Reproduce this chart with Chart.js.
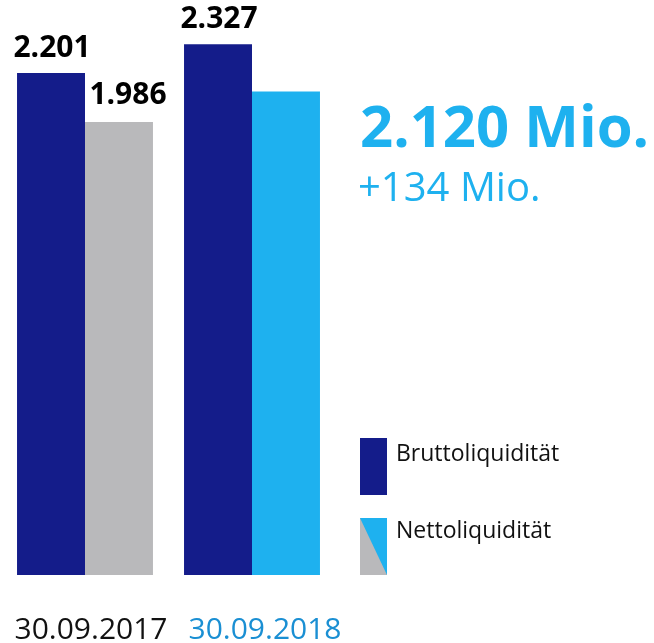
<!DOCTYPE html>
<html>
<head>
<meta charset="utf-8">
<script src="https://cdn.jsdelivr.net/npm/chart.js@4"></script>
<style>
html,body{margin:0;padding:0;background:#fff;}
#wrap{width:654px;height:643px;position:relative;}
</style>
</head>
<body>
<div id="wrap"><canvas id="c" width="654" height="643"></canvas></div>
<script>
const categories = ['30.09.2017', '30.09.2018'];
const brutto = [2.201, 2.327];
const netto = [1.986, 2.120];
const showNettoLabel = [true, false];
const seriesNames = ['Bruttoliquidität', 'Nettoliquidität'];
const headline = '2.120 Mio.';
const subline = '+134 Mio.';

const DARK = '#141c8a';
const GRAY = '#b9b9bb';
const LIGHT = '#1eb1ef';
const FONT = '"Open Sans", "Noto Sans", sans-serif';

const overlay = {
  id: 'overlay',
  afterDatasetsDraw(chart) {
    const ctx = chart.ctx;
    ctx.save();
    // value labels
    ctx.fillStyle = '#000';
    ctx.font = 'bold 30px ' + FONT;
    ctx.textAlign = 'center';
    ctx.textBaseline = 'alphabetic';
    chart.getDatasetMeta(0).data.forEach((bar, i) => {
      ctx.fillText(brutto[i].toFixed(3), bar.x + 1, bar.y - 16);
    });
    chart.getDatasetMeta(1).data.forEach((bar, i) => {
      if (showNettoLabel[i]) ctx.fillText(netto[i].toFixed(3), bar.x + 9, bar.y - 18);
    });
    // category labels
    const xs = chart.scales.x;
    ctx.font = '30px ' + FONT;
    const catColors = ['#111', '#1a8fd3'];
    const catOffsets = [6, 13];
    categories.forEach((c, i) => {
      ctx.fillStyle = catColors[i];
      ctx.fillText(c, xs.getPixelForValue(i) + catOffsets[i], 639);
    });
    // headline
    ctx.textAlign = 'left';
    ctx.fillStyle = LIGHT;
    ctx.font = 'bold 58px ' + FONT;
    ctx.fillText(headline, 360, 147);
    ctx.font = '40px ' + FONT;
    ctx.fillText(subline, 358, 201);
    // legend
    ctx.fillStyle = DARK;
    ctx.fillRect(360, 438, 27, 57);
    ctx.fillStyle = GRAY;
    ctx.fillRect(360, 518, 27, 57);
    ctx.fillStyle = LIGHT;
    ctx.beginPath();
    ctx.moveTo(360, 518);
    ctx.lineTo(387, 518);
    ctx.lineTo(387, 575);
    ctx.closePath();
    ctx.fill();
    ctx.fillStyle = '#111';
    ctx.font = '23px ' + FONT;
    ctx.fillText(seriesNames[0], 396, 461);
    ctx.fillText(seriesNames[1], 396, 538);
    ctx.restore();
  }
};

new Chart(document.getElementById('c'), {
  type: 'bar',
  data: {
    labels: categories,
    datasets: [
      { label: seriesNames[0], data: brutto, backgroundColor: DARK },
      { label: seriesNames[1], data: netto, backgroundColor: [GRAY, LIGHT] }
    ]
  },
  options: {
    responsive: false,
    animation: false,
    devicePixelRatio: 1,
    layout: { padding: { left: 1.5, right: 318.5, top: 0, bottom: 68 } },
    datasets: { bar: { categoryPercentage: 0.814, barPercentage: 1.0 } },
    plugins: { legend: { display: false }, tooltip: { enabled: false } },
    scales: {
      x: { display: false },
      y: { display: false, min: 0, max: 2.521 }
    }
  },
  plugins: [overlay]
});
</script>
</body>
</html>
